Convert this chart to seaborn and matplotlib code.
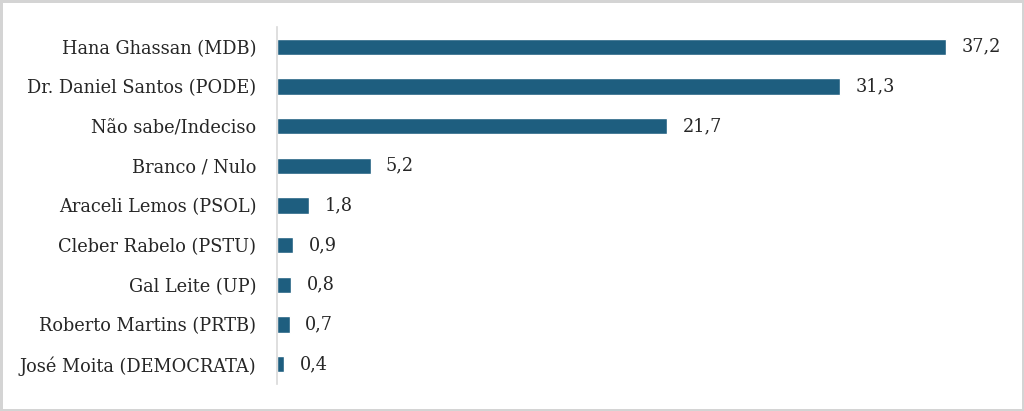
import pandas as pd
import seaborn as sns
import matplotlib.pyplot as plt

# Data
candidates = ["Hana Ghassan (MDB)", "Dr. Daniel Santos (PODE)", "Não sabe/Indeciso",
              "Branco / Nulo", "Araceli Lemos (PSOL)", "Cleber Rabelo (PSTU)",
              "Gal Leite (UP)", "Roberto Martins (PRTB)", "José Moita (DEMOCRATA)"]
percent = [37.2, 31.3, 21.7, 5.2, 1.8, 0.9, 0.8, 0.7, 0.4]

df = pd.DataFrame({"candidato": candidates, "pct": percent})

sns.set_style("white")
plt.rcParams['font.family'] = ['DejaVu Serif']

fig = plt.figure(figsize=(10.24, 4.11), dpi=100)
fig.patch.set_edgecolor('#d4d4d4')
fig.patch.set_linewidth(3.5)
ax = fig.add_axes([277 / 1024, 27 / 411, 723 / 1024, 357 / 411])
ax.patch.set_alpha(0)

sns.barplot(data=df, x="pct", y="candidato", color="#1e5e7f", width=0.42,
            saturation=1, ax=ax)

for i, v in enumerate(percent):
    ax.annotate(f"{v:.1f}".replace(".", ","), (v, i), xytext=(11, 0),
                textcoords="offset points", va="center", ha="left",
                fontsize=12.7, color="#262626")

ax.set_xlim(0, 40.2)
ax.set_ylim(8.5, -0.5)
ax.set_xlabel("")
ax.set_ylabel("")
ax.set_xticks([])
ax.tick_params(axis="y", length=0, pad=15, labelsize=12.8, labelcolor="#262626")
for s in ["top", "right", "bottom"]:
    ax.spines[s].set_visible(False)
ax.spines["left"].set_color("#d9d9d9")
ax.spines["left"].set_linewidth(1.2)

plt.savefig("out.png", dpi=100)
plt.close()
